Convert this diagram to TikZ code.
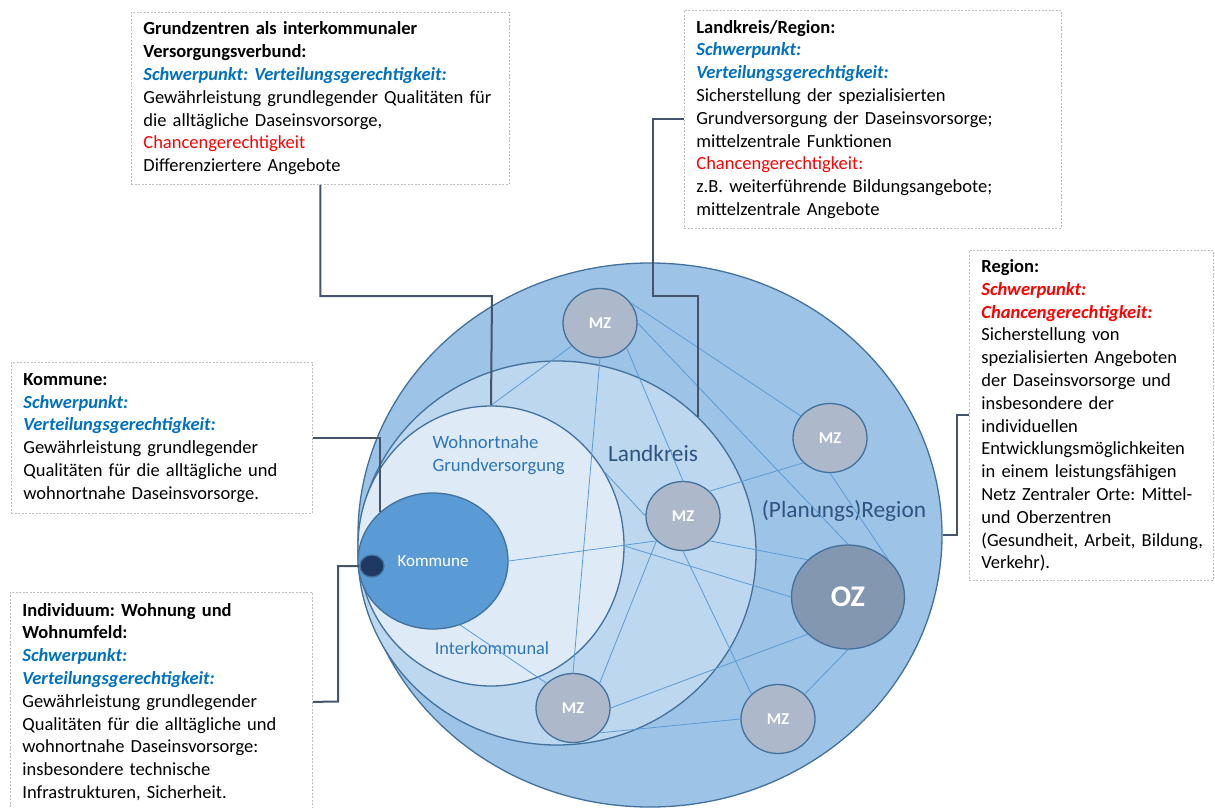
\documentclass[tikz,border=0pt]{standalone}
\usepackage{fontspec}
\setmainfont{Carlito}
\usetikzlibrary{shapes.geometric}

\definecolor{regionblue}{HTML}{9DC3E6}
\definecolor{kreisblue}{HTML}{BDD7EE}
\definecolor{nahblue}{HTML}{DEEBF7}
\definecolor{kommblue}{HTML}{5B9BD5}
\definecolor{rimblue}{HTML}{41719C}
\definecolor{dotblue}{HTML}{1F3864}
\definecolor{mzgray}{HTML}{ADB9CA}
\definecolor{ozgray}{HTML}{8497B0}
\definecolor{linkblue}{HTML}{5B9BD5}
\definecolor{connslate}{HTML}{44546A}
\definecolor{headblue}{HTML}{0070C0}
\definecolor{labelblue}{HTML}{2E75B6}
\definecolor{darkblue}{HTML}{2F5380}
\definecolor{boxgray}{HTML}{BFBFBF}

\newcommand{\bluehead}[1]{\textcolor{headblue}{\textbf{\textit{#1}}}}
\newcommand{\redhead}[1]{\textcolor{red}{\textbf{\textit{#1}}}}
\newcommand{\redtext}[1]{\textcolor{red}{#1}}
\frenchspacing
\hyphenpenalty=10000
\exhyphenpenalty=10000

\begin{document}
\begin{tikzpicture}[x=1pt,y=-1pt,
  area/.style={ellipse,draw=rimblue,line width=1.3pt,inner sep=0pt},
  center node/.style={ellipse,draw=rimblue,line width=1.3pt,fill=mzgray,inner sep=0pt,
    minimum width=74pt,minimum height=69pt,text=white,font=\fontsize{16.5}{18}\selectfont\bfseries},
  info box/.style={draw=boxgray,line width=0.8pt,dash pattern=on 2pt off 1.5pt,fill=white,
    anchor=north west,inner xsep=12pt,inner ysep=0pt,align=left,font=\fontsize{18.5}{22.8}\selectfont},
  link/.style={draw=linkblue,line width=0.8pt},
  conn/.style={draw=connslate,line width=2pt}]

  \useasboundingbox (0,0) rectangle (1215,807);

  \node[area,fill=regionblue,minimum width=584pt,minimum height=544pt] (region) at (650,535) {};
  \node[area,fill=kreisblue,minimum width=398pt,minimum height=384pt] (kreis) at (557,553) {};
  \node[area,fill=nahblue,minimum width=266pt,minimum height=280pt] (nah) at (491,546) {};
  \node[area,fill=kommblue,minimum width=150pt,minimum height=136pt,text=white,
    font=\fontsize{17}{19}\selectfont] (komm) at (433,561) {Kommune};
  \node[area,fill=dotblue,minimum width=24pt,minimum height=22pt] (dot) at (372,566) {};

  \node[center node] (mz1) at (600,323) {MZ};
  \node[center node] (mz2) at (683,516) {MZ};
  \node[center node] (mz3) at (830,438) {MZ};
  \node[center node] (mz4) at (573,708) {MZ};
  \node[center node] (mz5) at (778,719) {MZ};
  \node[center node,fill=ozgray,minimum width=113pt,minimum height=104pt,
    font=\fontsize{30}{32}\selectfont\bfseries] (oz) at (848,597) {OZ};

  \node[anchor=west,align=left,text=labelblue,font=\fontsize{18.7}{23}\selectfont] (nahlabel) at (429,455) {Wohnortnahe\\Grundversorgung};
  \node[text=darkblue,font=\fontsize{23.3}{28}\selectfont] (kreislabel) at (653,453) {Landkreis};
  \node[text=darkblue,font=\fontsize{23.3}{28}\selectfont] (regionlabel) at (844,511) {(Planungs)Region};
  \node[text=labelblue,font=\fontsize{18.3}{22}\selectfont] (interlabel) at (492,648) {Interkommunal};

  \path[link]
    (mz1.219) edge (nah.north)
    (mz1.south) edge (mz4.north)
    (mz1.south east) edge (mz2.north)
    (mz1.33) edge (mz3.143)
    (mz1.east) edge (oz.north)
    (mz3.south) edge (oz.north east)
    (nah.33) edge (mz2.west)
    (komm.east) edge (mz2.south west)
    (nah.east) edge (oz.west)
    (mz2.south east) edge (oz.north west)
    (mz2.north east) edge (mz3.south west)
    (mz2.south) edge (mz5.north west)
    (mz2.south west) edge (mz4.north east)
    (mz4.east) edge (oz.south west)
    (mz4.south east) edge (mz5.west)
    (komm.-67) edge (mz4.north west)
    (oz.south) edge (mz5.north east);

  \node[info box,text width=354pt,minimum height=172pt] (gz) at (131,12)
    {\textbf{Grundzentren als interkommunaler}\\
     \textbf{Versorgungsverbund:}\\
     \bluehead{Schwerpunkt: Verteilungsgerechtigkeit:}\\
     Gewährleistung grundlegender Qualitäten für\\
     die alltägliche Daseinsvorsorge,\\
     \redtext{Chancengerechtigkeit}\\
     Differenziertere Angebote};
  \node[info box,text width=353pt,minimum height=218pt] (lk) at (684,10)
    {\textbf{Landkreis/Region:}\\
     \bluehead{Schwerpunkt:}\\
     \bluehead{Verteilungsgerechtigkeit:}\\
     Sicherstellung der spezialisierten\\
     Grundversorgung der Daseinsvorsorge;\\
     mittelzentrale Funktionen\\
     \redtext{Chancengerechtigkeit:}\\
     z.B. weiterführende Bildungsangebote;\\
     mittelzentrale Angebote};
  \node[info box,text width=220pt,minimum height=330pt] (rg) at (969,250)
    {\textbf{Region:}\\
     \redhead{Schwerpunkt:}\\
     \redhead{Chancengerechtigkeit:}\\
     Sicherstellung von\\
     spezialisierten Angeboten\\
     der Daseinsvorsorge und\\
     insbesondere der\\
     individuellen\\
     Entwicklungsmöglichkeiten\\
     in einem leistungsfähigen\\
     Netz Zentraler Orte: Mittel-\\
     und Oberzentren\\
     (Gesundheit,~Arbeit,~Bildung,\\
     Verkehr).};
  \node[info box,text width=277pt,minimum height=151pt] (km) at (11,362)
    {\textbf{Kommune:}\\
     \bluehead{Schwerpunkt:}\\
     \bluehead{Verteilungsgerechtigkeit:}\\
     Gewährleistung grundlegender\\
     Qualitäten für die alltägliche und\\
     wohnortnahe Daseinsvorsorge.};
  \node[info box,text width=278pt,minimum height=219pt] (ind) at (10,592)
    {\textbf{Individuum: Wohnung und}\\
     \textbf{Wohnumfeld:}\\
     \bluehead{Schwerpunkt:}\\
     \bluehead{Verteilungsgerechtigkeit:}\\
     Gewährleistung grundlegender\\
     Qualitäten für die alltägliche und\\
     wohnortnahe Daseinsvorsorge:\\
     insbesondere technische\\
     Infrastrukturen, Sicherheit.};

  \coordinate (indturn) at (338,701.5);
  \draw[conn] (gz.south) |- (492,296) -- (nah.north);
  \draw[conn] (lk.west) -| (653,296) -| (kreis.north east);
  \draw[conn] (rg.west) -| (957,535) -- (region.east);
  \draw[conn] (km.east) -| (komm.north west);
  \draw[conn] (dot.west) -| (indturn) -- (ind.east);
\end{tikzpicture}
\end{document}
